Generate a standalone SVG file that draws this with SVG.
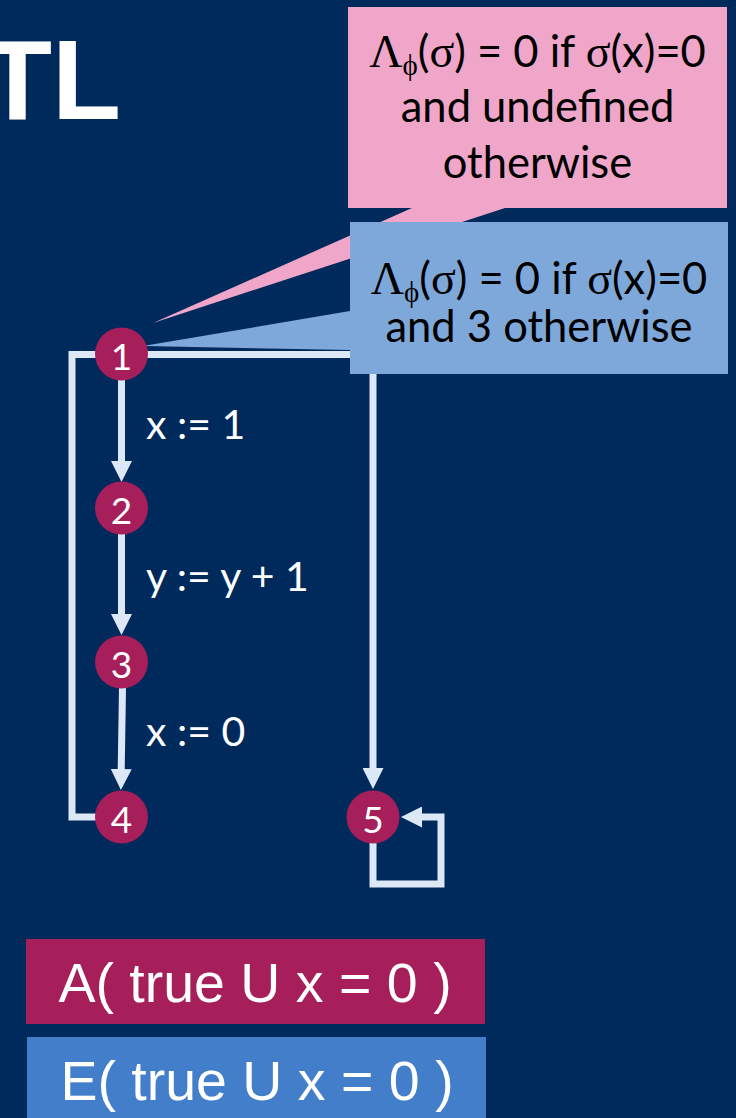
<svg xmlns="http://www.w3.org/2000/svg" width="736" height="1118" viewBox="0 0 736 1118">
<defs>
<style>
.edge{fill:none;stroke:#DCE8F5;stroke-width:7;stroke-linejoin:miter}
.arr{marker-end:url(#ah)}
.node circle{fill:#A61E5A}
.node text{fill:#FFFFFF;font-family:Lato,"Open Sans",sans-serif;font-size:37px;text-anchor:middle}
.lbl{fill:#FFFFFF;font-family:Lato,"Open Sans",sans-serif;font-size:41px}
.call{fill:#000000;font-family:Lato,"Open Sans",sans-serif;font-size:43.5px;text-anchor:middle}
.gk{font-family:"Liberation Serif",serif;font-size:46px}
.sub{font-family:"Liberation Serif",serif;font-size:29px}
.formula{fill:#FFFFFF;font-family:"Liberation Sans",Arial,sans-serif;font-size:55.5px;text-anchor:middle}
</style>
<marker id="ah" markerUnits="userSpaceOnUse" markerWidth="21" markerHeight="21" viewBox="0 0 21 21" refX="1" refY="10.5" orient="auto">
<path d="M0,0 L21,10.5 L0,21 Z" fill="#DCE8F5"/>
</marker>
</defs>
<rect x="0" y="0" width="736" height="1118" fill="#002A5C"/>
<text id="title" x="-17" y="119" font-family="'Liberation Sans',Arial,sans-serif" font-weight="bold" font-size="113" fill="#FFFFFF">TL</text>

<g id="connectors">
<path class="edge arr" d="M121.5,380 V462"/>
<path class="edge arr" d="M121.5,534 V615"/>
<path class="edge arr" d="M122.5,688 L121.2,770"/>
<path class="edge arr" d="M121.5,354.5 H373 V769"/>
<path class="edge" d="M100,354.5 H72 V817 H100"/>
<path class="edge arr" d="M373,843 V884 H441 V817 H421"/>
</g>

<g id="callout-undefined">
<polygon points="348,7 727,7 727,208 505,208 153,323 412,208 348,208" fill="#F0A6C8"/>
<text class="call" x="537.5" y="67"><tspan class="gk">Λ</tspan><tspan class="sub" dy="8">ϕ</tspan><tspan dy="-8">(</tspan><tspan class="gk">σ</tspan>) = 0 if <tspan class="gk">σ</tspan>(x)=0</text>
<text class="call" x="537.5" y="122">and undefined</text>
<text class="call" x="537.5" y="178">otherwise</text>
</g>

<g id="callout-three">
<polygon points="350,222 728,222 728,374 350,374 350,350 143,346 350,311" fill="#7EA8DA"/>
<text class="call" x="539" y="294"><tspan class="gk">Λ</tspan><tspan class="sub" dy="8">ϕ</tspan><tspan dy="-8">(</tspan><tspan class="gk">σ</tspan>) = 0 if <tspan class="gk">σ</tspan>(x)=0</text>
<text class="call" x="539" y="342">and 3 otherwise</text>
</g>

<g id="node1" class="node"><circle cx="121.5" cy="354" r="26.5"/><text x="121.5" y="370">1</text></g>
<g id="node2" class="node"><circle cx="121.5" cy="508" r="26.5"/><text x="121.5" y="524">2</text></g>
<g id="node3" class="node"><circle cx="121.5" cy="662" r="26.5"/><text x="121.5" y="678">3</text></g>
<g id="node4" class="node"><circle cx="121.5" cy="817" r="26.5"/><text x="121.5" y="833">4</text></g>
<g id="node5" class="node"><circle cx="373" cy="817" r="26.5"/><text x="373" y="833">5</text></g>

<g id="labels">
<text class="lbl" x="146" y="439">x := 1</text>
<text class="lbl" x="146" y="591">y := y + 1</text>
<text class="lbl" x="146" y="746">x := 0</text>
</g>

<g id="formula-A">
<rect x="26" y="939" width="459" height="85" fill="#A61E5A"/>
<text class="formula" x="255" y="1002">A( true U x = 0 )</text>
</g>
<g id="formula-E">
<rect x="27" y="1037" width="459" height="81" fill="#427EC9"/>
<text class="formula" x="257" y="1100">E( true U x = 0 )</text>
</g>
</svg>
